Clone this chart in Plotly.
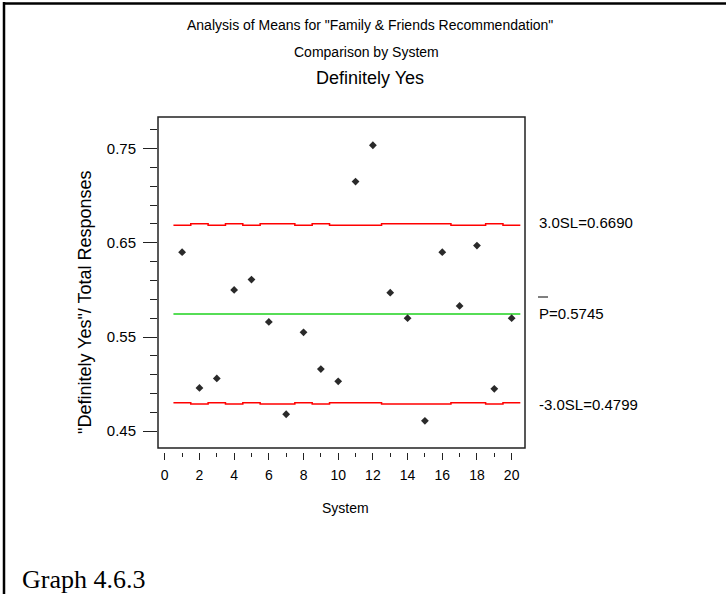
import plotly.graph_objects as go

# ---- data ----
systems = list(range(1, 21))
proportions = [0.640, 0.496, 0.506, 0.600, 0.611, 0.566, 0.468, 0.555, 0.516, 0.503,
               0.715, 0.7535, 0.597, 0.570, 0.461, 0.640, 0.583, 0.647, 0.495, 0.570]
ucl = [0.6687, 0.6701, 0.6687, 0.6701, 0.6687, 0.6701, 0.6701, 0.6687, 0.6701, 0.6687,
       0.6687, 0.6687, 0.6701, 0.6701, 0.6701, 0.6701, 0.6687, 0.6687, 0.6701, 0.6687]
lcl = [0.4803, 0.4789, 0.4803, 0.4789, 0.4803, 0.4789, 0.4789, 0.4803, 0.4789, 0.4803,
       0.4803, 0.4803, 0.4789, 0.4789, 0.4789, 0.4789, 0.4803, 0.4803, 0.4789, 0.4803]
p_bar = 0.5745
ucl_label = "3.0SL=0.6690"
center_label = "P=0.5745"
lcl_label = "-3.0SL=0.4799"
x_ticks = [0, 2, 4, 6, 8, 10, 12, 14, 16, 18, 20]
y_ticks = [0.45, 0.55, 0.65, 0.75]

# ---- layout geometry (pixels) ----
W, H = 726, 594
L, R, T, B = 158, 201, 117, 142
PW, PH = W - L - R, H - T - B
plot_bottom_px = 448


def px_x(px):
    return (px - L) / PW


def px_y(py):
    return (H - B - py) / PH


ARIAL = "Liberation Sans, Arial, sans-serif"

edges = [s - 0.5 for s in systems] + [systems[-1] + 0.5]

fig = go.Figure()
fig.add_trace(go.Scatter(x=edges, y=ucl + [ucl[-1]], mode="lines", line_shape="hv",
                         line=dict(color="#ff0000", width=1.5), hoverinfo="skip"))
fig.add_trace(go.Scatter(x=edges, y=lcl + [lcl[-1]], mode="lines", line_shape="hv",
                         line=dict(color="#ff0000", width=1.5), hoverinfo="skip"))
fig.add_trace(go.Scatter(x=[edges[0], edges[-1]], y=[p_bar, p_bar], mode="lines",
                         line=dict(color="#1ed21e", width=1.5), hoverinfo="skip"))
fig.add_trace(go.Scatter(x=systems, y=proportions, mode="markers",
                         marker=dict(symbol="diamond", size=6, color="#2a2a2a")))

fig.update_layout(
    width=W, height=H,
    margin=dict(l=L, r=R, t=T, b=B, pad=0),
    paper_bgcolor="white", plot_bgcolor="white",
    showlegend=False,
    font=dict(family=ARIAL, color="black"),
    xaxis=dict(range=[-0.39, 20.77], anchor="free", position=0,
               tickmode="array", tickvals=x_ticks, ticks="outside", ticklen=7,
               tickwidth=1.2, tickcolor="#222",
               minor=dict(dtick=1, tick0=0, ticks="outside", ticklen=3.5, tickwidth=1.2,
                          tickcolor="#222"),
               showgrid=False, zeroline=False, showline=False,
               tickfont=dict(size=14, family=ARIAL), ticklabelstandoff=3),
    yaxis=dict(range=[0.4322, 0.7835], domain=[(H - B - plot_bottom_px) / PH, 1],
               tickmode="array", tickvals=y_ticks, tickformat=".2f",
               ticks="outside", ticklen=14, tickwidth=1.2, tickcolor="#222",
               minor=dict(dtick=0.02, tick0=0.45, ticks="outside", ticklen=7,
                          tickwidth=1.2, tickcolor="#222"),
               showgrid=False, zeroline=False, showline=False,
               tickfont=dict(size=15, family=ARIAL), ticklabelstandoff=4),
)

shapes = [
    dict(type="rect", xref="x domain", yref="y domain", x0=0, x1=1, y0=0, y1=1,
         line=dict(color="#222", width=1.5), layer="above"),
    # outer frame (top and left)
    dict(type="line", xref="paper", yref="paper", x0=px_x(3), x1=px_x(W), y0=px_y(3.5), y1=px_y(3.5),
         line=dict(color="black", width=2.5), layer="above"),
    dict(type="line", xref="paper", yref="paper", x0=px_x(4), x1=px_x(4), y0=px_y(2), y1=px_y(H),
         line=dict(color="black", width=2.5), layer="above"),
    # overline of P
    dict(type="line", xref="paper", yref="paper", x0=px_x(538), x1=px_x(548),
         y0=px_y(297), y1=px_y(297), line=dict(color="black", width=1)),
]
fig.update_layout(shapes=shapes)

annotations = [
    dict(text='Analysis of Means for "Family & Friends Recommendation"', x=px_x(370), y=px_y(25),
         font=dict(size=14)),
    dict(text="Comparison by System", x=px_x(366), y=px_y(52), font=dict(size=14)),
    dict(text="Definitely Yes", x=px_x(370), y=px_y(78), font=dict(size=18)),
    dict(text="System", x=px_x(345), y=px_y(508), font=dict(size=14)),
    dict(text='"Definitely Yes"/ Total Responses', x=px_x(85), y=px_y(302), textangle=-90,
         font=dict(size=18)),
    dict(text=ucl_label, x=px_x(537), y=px_y(222), xanchor="left", font=dict(size=15)),
    dict(text=center_label, x=px_x(537), y=px_y(313), xanchor="left", font=dict(size=15)),
    dict(text=lcl_label, x=px_x(537), y=px_y(404), xanchor="left", font=dict(size=15)),
    dict(text="Graph 4.6.3", x=px_x(20), y=px_y(579), xanchor="left",
         font=dict(size=26, family="Liberation Serif, Times New Roman, serif")),
]
for a in annotations:
    a.setdefault("xanchor", "center")
    a.update(xref="paper", yref="paper", yanchor="middle", showarrow=False)
fig.update_layout(annotations=annotations)

fig.write_html("out.html", config={"displayModeBar": False},
               post_script="document.body.style.margin='0px';")
